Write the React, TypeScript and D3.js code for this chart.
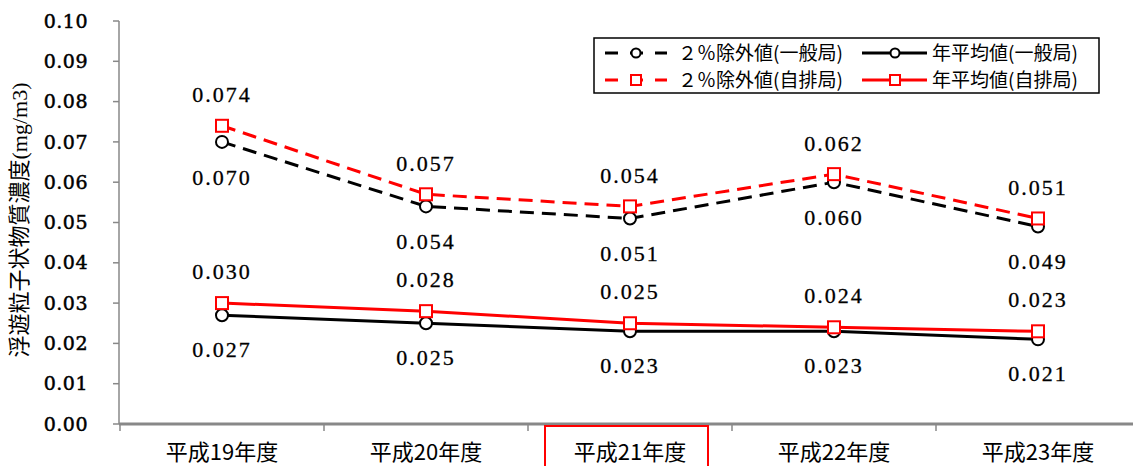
import React from 'react';
import * as d3 from 'd3';

const years = ['平成19年度', '平成20年度', '平成21年度', '平成22年度', '平成23年度'];
const excl2General = [0.070, 0.054, 0.051, 0.060, 0.049];
const excl2Roadside = [0.074, 0.057, 0.054, 0.062, 0.051];
const annualGeneral = [0.027, 0.025, 0.023, 0.023, 0.021];
const annualRoadside = [0.030, 0.028, 0.025, 0.024, 0.023];
const yTicks = [0, 0.01, 0.02, 0.03, 0.04, 0.05, 0.06, 0.07, 0.08, 0.09, 0.1];

const W = 1133;
const H = 466;
const numFont = 'Liberation Serif';
const tickFont = 'DejaVu Serif';
const jpFont = 'Noto Sans CJK JP';

const series = [
  { name: '２％除外値(一般局)', values: excl2General, color: '#000', dash: '14,8', marker: 'circle', labelDy: 35 },
  { name: '２％除外値(自排局)', values: excl2Roadside, color: '#ff0000', dash: '14,8', marker: 'square', labelDy: -31 },
  { name: '年平均値(一般局)', values: annualGeneral, color: '#000', dash: null, marker: 'circle', labelDy: 34 },
  { name: '年平均値(自排局)', values: annualRoadside, color: '#ff0000', dash: null, marker: 'square', labelDy: -32 },
];

function Marker({ type, x, y, color }) {
  if (type === 'circle') {
    return <circle cx={x} cy={y} r={6} fill="#fff" stroke={color} strokeWidth={2} />;
  }
  return <rect x={x - 6} y={y - 6} width={12} height={12} fill="#fff" stroke={color} strokeWidth={2} />;
}

export default function App() {
  const x = d3.scaleBand().domain(years).range([120, 1140]);
  const y = d3.scaleLinear().domain([0, 0.1]).range([424, 21]);
  const cx = (d: string) => (x(d) as number) + x.bandwidth() / 2;
  const line = d3.line<number>().x((_, i) => cx(years[i])).y((v) => y(v));

  // legend layout
  const legX = 594, legY = 38, legW = 505, legH = 55;
  const legItems = [
    { s: series[0], lx: 605, ty: 53 },
    { s: series[2], lx: 862, ty: 53 },
    { s: series[1], lx: 605, ty: 80 },
    { s: series[3], lx: 862, ty: 80 },
  ];

  return (
    <svg width={W} height={H} style={{ position: 'absolute', left: 0, top: 0, background: '#fff' }}>
      {/* y axis */}
      <line x1={119} x2={119} y1={y(0.1)} y2={y(0)} stroke="#888" strokeWidth={1.5} />
      {yTicks.map((t) => (
        <g key={t}>
          <line x1={113} x2={119} y1={y(t)} y2={y(t)} stroke="#888" strokeWidth={1.5} />
          <text x={88} y={y(t)} dy="0.35em" textAnchor="end" fontFamily={tickFont} fontSize={19}
            stroke="#000" strokeWidth={0.5} letterSpacing={0.5}>{t.toFixed(2)}</text>
        </g>
      ))}
      <text transform="translate(27,220) rotate(-90)" textAnchor="middle" fontFamily={jpFont} fontSize={22}>
        浮遊粒子状物質濃度<tspan fontFamily={numFont}>(mg/m3)</tspan>
      </text>

      {/* x axis */}
      <line x1={119} x2={W} y1={424} y2={424} stroke="#888" strokeWidth={3} />
      {years.map((d, i) => (
        <line key={'t' + i} x1={x(d)} x2={x(d)} y1={424} y2={431} stroke="#888" strokeWidth={1.5} />
      ))}
      {years.map((d) => (
        <text key={d} x={cx(d)} y={452} textAnchor="middle" dy="0.35em" fontFamily={jpFont} fontSize={22}>
          {d}
        </text>
      ))}
      <rect x={545} y={426} width={163} height={42} fill="none" stroke="#ff0000" strokeWidth={2} />

      {/* lines */}
      {series.map((s) => (
        <path key={s.name} d={line(s.values) as string} fill="none" stroke={s.color} strokeWidth={3}
          strokeDasharray={s.dash || undefined} />
      ))}
      {series.map((s) =>
        s.values.map((v, i) => <Marker key={s.name + i} type={s.marker} x={cx(years[i])} y={y(v)} color={s.color} />)
      )}
      {series.map((s) =>
        s.values.map((v, i) => (
          <text key={'l' + s.name + i} x={cx(years[i])} y={y(v) + s.labelDy} dy="0.35em" textAnchor="middle"
            fontFamily={numFont} fontSize={22} letterSpacing={2} stroke="#000" strokeWidth={0.3}>{v.toFixed(3)}</text>
        ))
      )}

      {/* legend */}
      <rect x={legX} y={legY} width={legW} height={legH} fill="#fff" stroke="#000" strokeWidth={1.5} />
      {legItems.map(({ s, lx, ty }) => {
        const mx = lx + (s.dash ? 31 : 33);
        return (
          <g key={'leg' + s.name}>
            {s.dash ? (
              <line x1={lx} x2={lx + 62} y1={ty} y2={ty} stroke={s.color} strokeWidth={3} strokeDasharray="13,12" />
            ) : (
              <line x1={lx} x2={lx + 65} y1={ty} y2={ty} stroke={s.color} strokeWidth={3} />
            )}
            {s.marker === 'circle' ? (
              <circle cx={mx} cy={ty} r={4.5} fill="#fff" stroke={s.color} strokeWidth={2} />
            ) : (
              <rect x={mx - 5} y={ty - 5} width={10} height={10} fill="#fff" stroke={s.color} strokeWidth={2} />
            )}
            <text x={lx + (s.dash ? 73 : 70)} y={ty} dy="0.35em" fontFamily={jpFont} fontSize={19}>{s.name}</text>
          </g>
        );
      })}
    </svg>
  );
}
